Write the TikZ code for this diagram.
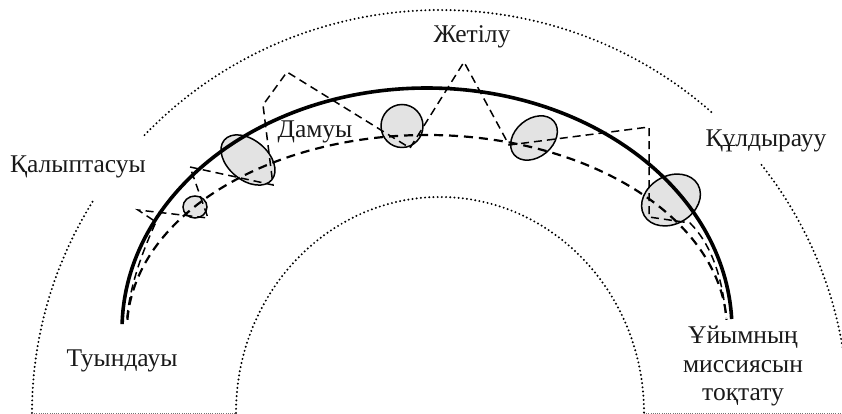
\documentclass[tikz,border=0pt]{standalone}
\usepackage{fontspec}
\setmainfont{Liberation Serif}
\begin{document}
\begin{tikzpicture}[x=1pt,y=1pt,
  dotarc/.style={line width=2.2pt, dash pattern=on 0pt off 4.2pt, line cap=round},
  basedots/.style={line width=0.7pt, black!55, dash pattern=on 1pt off 1.2pt},
  mainarc/.style={line width=3.6pt},
  trend/.style={line width=2.2pt, dash pattern=on 9pt off 6pt},
  zig/.style={line width=1.5pt, dash pattern=on 8pt off 5pt},
  crisis/.style={draw=black, line width=1.5pt, fill=black!11},
  lbl/.style={font=\fontsize{25.5}{28}\selectfont, inner sep=0pt, anchor=base, text=black!90}]
\useasboundingbox (0,0) rectangle (842,414);

% outer dotted half-ring (with gaps for labels)
\draw[dotarc] (32,1) arc[start angle=180, end angle=148, x radius=408, y radius=403];
\draw[dotarc] (440,1) ++(136.4:408 and 403) arc[start angle=136.4, end angle=48, x radius=408, y radius=403];
\draw[dotarc] (440,1) ++(38:408 and 403) arc[start angle=38, end angle=0, x radius=408, y radius=403];
% inner dotted half-ring
\draw[dotarc] (236,1) arc[start angle=180, end angle=0, x radius=204, y radius=216];
% base line
\draw[basedots] (32,1) -- (236,1);
\draw[basedots] (644,1) -- (842,1);

% crisis ellipses
\draw[crisis] (195,207) ellipse[x radius=12, y radius=11];
\draw[crisis, shift={(248,254)}, rotate=-40] (0,0) ellipse[x radius=31, y radius=20];
\draw[crisis] (402,288) ellipse[x radius=21, y radius=21.5];
\draw[crisis, shift={(534,276)}, rotate=40] (0,0) ellipse[x radius=26, y radius=19];
\draw[crisis, shift={(671,214)}, rotate=30] (0,0) ellipse[x radius=31, y radius=24];

% trend (dashed arc)
\draw[trend] (427,84) ++(177:300 and 195) arc[start angle=177, end angle=3, x radius=300, y radius=195];

% zigzag
\coordinate (z0) at (127,96);
\coordinate (z1) at (156,192);
\coordinate (p1) at (138,204);
\coordinate (p2) at (208,196);
\coordinate (p3) at (190,247);
\coordinate (p4) at (273,229);
\coordinate (p5) at (263,309);
\coordinate (p6) at (287,342);
\coordinate (p7) at (410,266);
\coordinate (p8) at (464,352);
\coordinate (p9) at (509,269);
\coordinate (p10) at (649,287);
\coordinate (p11) at (649,197);
\coordinate (z2) at (690,191);
\coordinate (z3) at (726,96);
\draw[zig] (z0) .. controls (130,129) and (143,164) .. (z1) -- (p1) -- (p2) -- (p3) -- (p4) -- (p5) -- (p6) -- (p7) -- (p8) -- (p9) -- (p10) -- (p11) -- (z2) .. controls (712,169) and (723,134) .. (z3);

% life-cycle curve
\draw[mainarc] (427,84) ++(178.6:305 and 242) arc[start angle=178.6, end angle=2.6, x radius=305, y radius=242];

% labels
\node[lbl] (zhetilu) at (472,371) {Жетілу};
\node[lbl] (damuy) at (315,276) {Дамуы};
\node[lbl] (qalyp) at (78,241) {Қалыптасуы};
\node[lbl] (quldyr) at (766,267) {Құлдырауу};
\node[lbl] (tuyn) at (122,47) {Туындауы};
\node[lbl] (end1) at (743,70) {Ұйымның};
\node[lbl] (end2) at (743,41) {миссиясын};
\node[lbl] (end3) at (743,13) {тоқтату};
\end{tikzpicture}
\end{document}
